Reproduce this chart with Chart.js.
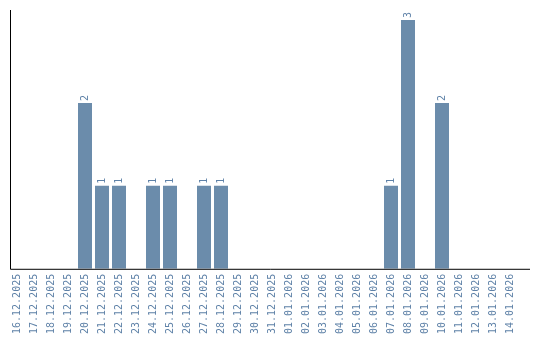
<!DOCTYPE html>
<html lang="en">
<head>
    <meta charset="UTF-8">
    <title>Daily count</title>
    <script src="https://cdn.jsdelivr.net/npm/chart.js"></script>
    <style>
        html, body { margin: 0; padding: 0; background: #fff; }
        #wrap { width: 540px; height: 340px; }
    </style>
</head>
<body>
<div id="wrap"><canvas id="dataChart" width="540" height="340"></canvas></div>
<script>
    // dates shown on the x axis
    const dayLabels = [
        '16.12.2025', '17.12.2025', '18.12.2025', '19.12.2025', '20.12.2025',
        '21.12.2025', '22.12.2025', '23.12.2025', '24.12.2025', '25.12.2025',
        '26.12.2025', '27.12.2025', '28.12.2025', '29.12.2025', '30.12.2025',
        '31.12.2025', '01.01.2026', '02.01.2026', '03.01.2026', '04.01.2026',
        '05.01.2026', '06.01.2026', '07.01.2026', '08.01.2026', '09.01.2026',
        '10.01.2026', '11.01.2026', '12.01.2026', '13.01.2026', '14.01.2026'
    ];
    // count per day
    const dayCounts = [
        0, 0, 0, 0, 2,
        1, 1, 0, 1, 1,
        0, 1, 1, 0, 0,
        0, 0, 0, 0, 0,
        0, 0, 1, 3, 0,
        2, 0, 0, 0, 0
    ];
    const yMax = 3.12;

    const barColor = 'rgb(107,140,171)';
    const textColor = 'rgb(95,130,168)';
    const monoFont = "'DejaVu Sans Mono', monospace";

    // value labels above the bars, rotated like the ticks
    const barValues = {
        id: 'barValues',
        afterDatasetsDraw(chart) {
            const ctx = chart.ctx;
            const meta = chart.getDatasetMeta(0);
            ctx.save();
            ctx.font = '10px ' + monoFont;
            ctx.fillStyle = textColor;
            meta.data.forEach((bar, i) => {
                const v = dayCounts[i];
                if (!v) return;
                ctx.save();
                ctx.translate(bar.x, bar.y - 2);
                ctx.rotate(-Math.PI / 2);
                ctx.textAlign = 'left';
                ctx.textBaseline = 'middle';
                ctx.fillText(String(v), 0, 0);
                ctx.restore();
            });
            ctx.restore();
        }
    };

    // plain black axis lines
    const axisLines = {
        id: 'axisLines',
        afterDraw(chart) {
            const a = chart.chartArea;
            const ctx = chart.ctx;
            ctx.save();
            ctx.strokeStyle = '#000';
            ctx.lineWidth = 1;
            ctx.beginPath();
            ctx.moveTo(10.5, a.top);
            ctx.lineTo(10.5, a.bottom + 0.5);
            ctx.lineTo(530, a.bottom + 0.5);
            ctx.stroke();
            ctx.restore();
        }
    };

    new Chart(document.getElementById('dataChart'), {
        type: 'bar',
        data: {
            labels: dayLabels,
            datasets: [{
                data: dayCounts,
                backgroundColor: barColor,
                borderWidth: 0,
                categoryPercentage: 1,
                barPercentage: 14 / 17
            }]
        },
        options: {
            responsive: false,
            animation: false,
            layout: { padding: { left: 8.5, right: 21.5, top: 10, bottom: 1 } },
            plugins: {
                legend: { display: false },
                tooltip: { enabled: false }
            },
            scales: {
                x: {
                    grid: { display: false, drawTicks: false },
                    border: { display: false },
                    ticks: {
                        autoSkip: false,
                        minRotation: 90,
                        maxRotation: 90,
                        padding: 5,
                        color: textColor,
                        font: { family: monoFont, size: 10 }
                    }
                },
                y: {
                    display: false,
                    min: 0,
                    max: yMax
                }
            }
        },
        plugins: [barValues, axisLines]
    });
</script>
</body>
</html>
